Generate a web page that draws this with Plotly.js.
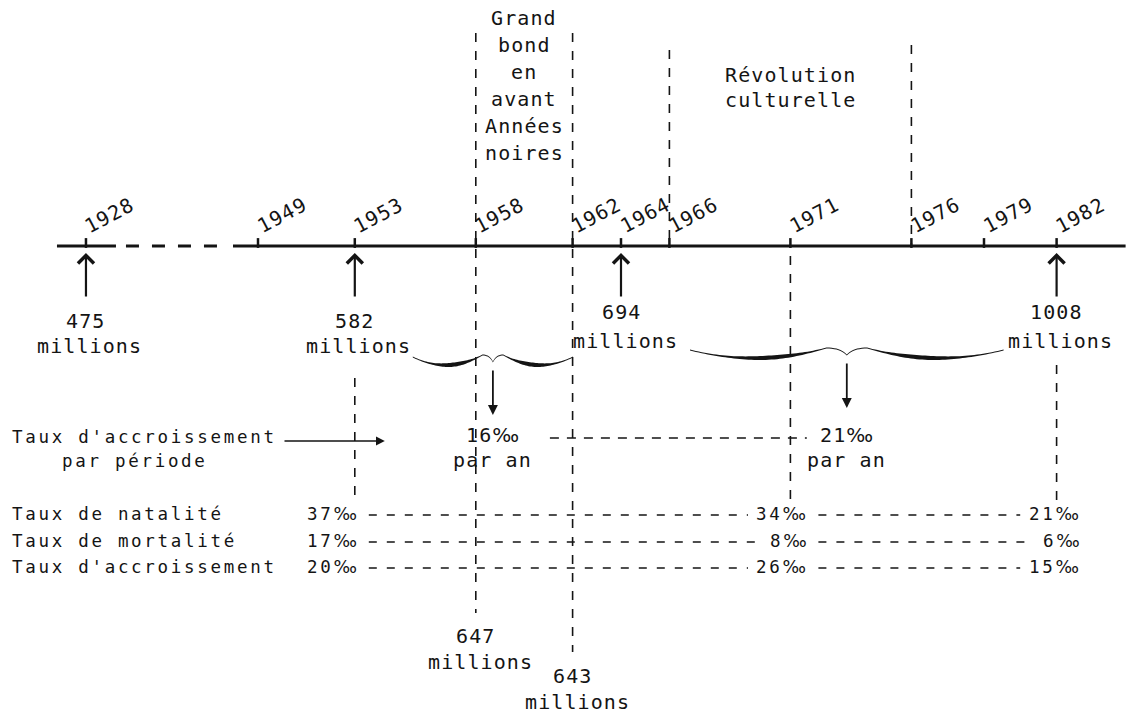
<!DOCTYPE html>
<html>
<head>
<meta charset="utf-8">
<script src="https://cdn.plot.ly/plotly-3.0.1.min.js"></script>
<style>
html,body{margin:0;padding:0;background:#fff;}
#chart{width:1134px;height:713px;}
.annotation-text{letter-spacing:1.1px;}
.annotation-text[style*="font-size: 17.5px"]{letter-spacing:2.7px;}
</style>
</head>
<body>
<div id="chart"></div>
<script>
// ---------------- DATA ----------------
const tickYears   = [1928, 1949, 1953, 1958, 1962, 1964, 1966, 1971, 1976, 1979, 1982];
const censusYears = [1928, 1953, 1964, 1982];
const censusPop   = [475, 582, 694, 1008];
const troughYears = [1958, 1962];
const troughPop   = [647, 643];
const periodStart = [1953, 1964];
const periodEnd   = [1964, 1982];
const periodGrowth = [16, 21];
const eraStart = [1958, 1966];
const eraEnd   = [1962, 1976];
const eraLabels = [["Grand", "bond", "en", "avant", "Années", "noires"], ["Révolution", "culturelle"]];
const rateYears  = [1953, 1971, 1982];
const rateNames  = ["Taux de natalité", "Taux de mortalité", "Taux d'accroissement"];
const birthRate  = [37, 34, 21];
const deathRate  = [17, 8, 6];
const growthRate = [20, 26, 15];
const periodLabel = ["Taux d'accroissement", "par période"];
const unitLabel = "millions";
const perAnLabel = "par an";

// ---------------- LAYOUT CONSTANTS ----------------
const W = 1134, H = 713;
const PPY = 24.2;             // pixels per year
const REF_YEAR = 1949, REF_PX = 258;
const BREAK_SCALE = 0.3385;   // compression of the broken part before 1949
const AXIS_Y = 246;
const INK = '#141414';
const FONT = '"DejaVu Sans Mono", "Liberation Mono", monospace';
const BIG = 20, SMALL = 17.5;
const PM = '<span style="font-family:\'DejaVu Sans\'">‰</span>';

function xp(year) { return year >= REF_YEAR ? year : REF_YEAR - (REF_YEAR - year) * BREAK_SCALE; }
function dx(px) { return px / PPY; }
function pxToX(px) { return REF_YEAR + (px - REF_PX) / PPY; }

const shapes = [];
const ann = [];
function line(x0, y0, x1, y1, width, dash) {
  shapes.push({type: 'line', xref: 'x', yref: 'y', x0, y0, x1, y1,
    line: {color: INK, width: width, dash: dash || 'solid'}});
}
function text(t, x, y, opt) {
  ann.push(Object.assign({text: t, x: x, y: y, xref: 'x', yref: 'y', showarrow: false,
    xanchor: 'center', yanchor: 'middle',
    font: {family: FONT, size: BIG, color: INK}}, opt || {}));
}
function arrow(x, y, ax, ay, head, w, size) {
  ann.push({text: '', x: x, y: y, ax: ax, ay: ay, xref: 'x', yref: 'y', axref: 'x', ayref: 'y',
    showarrow: true, arrowhead: head, arrowwidth: w, arrowsize: size, arrowcolor: INK, standoff: 0, startstandoff: 0});
}

// ---- main time axis (broken before 1949)
const x1928 = xp(tickYears[0]), x1949 = xp(tickYears[1]);
line(x1928 - dx(29), AXIS_Y, x1928 + dx(30), AXIS_Y, 3);
line(x1928 + dx(40), AXIS_Y, x1949 - dx(36), AXIS_Y, 3, '13px,13px');
line(x1949 - dx(25), AXIS_Y, xp(tickYears[tickYears.length - 1]) + dx(69), AXIS_Y, 3);

// ---- year labels (slanted)
tickYears.forEach(y => text(String(y), xp(y), AXIS_Y - 31, {xshift: 24, textangle: -28}));

// ---- era dashed boundaries + labels
const eraSpans = [[[33, 613], [33, 652]], [[50, AXIS_Y], [45, AXIS_Y]]];
eraStart.forEach((s, i) => {
  line(xp(s), eraSpans[i][0][0], xp(s), eraSpans[i][0][1], 1.6, '9px,9px');
  line(xp(eraEnd[i]), eraSpans[i][1][0], xp(eraEnd[i]), eraSpans[i][1][1], 1.6, '9px,9px');
});
const eraLineY = [[18, 45, 72, 99, 126, 153], [75, 100]];
eraLabels.forEach((lines, i) => {
  const xm = (xp(eraStart[i]) + xp(eraEnd[i])) / 2;
  lines.forEach((t, k) => text(t, xm, eraLineY[i][k]));
});

// ---- census populations with arrows
const numY = [321, 321, 312, 312], millY = [346, 346, 341, 341];
censusYears.forEach((y, i) => {
  arrow(xp(y), AXIS_Y + 7, xp(y), AXIS_Y + 52, 4, 2.2, 1.4);
  text(String(censusPop[i]), xp(y), numY[i]);
  text(unitLabel, xp(y), millY[i], {xshift: 4});
});

// ---- troughs (famine) populations at bottom
const troughNumY = [636, 676], troughMillY = [662, 702];
troughYears.forEach((y, i) => {
  text(String(troughPop[i]), xp(y), troughNumY[i]);
  text(unitLabel, xp(y), troughMillY[i], {xshift: 5});
});

// ---- braces over periods
const braceInset = [[58, 48], [69, 53]];
const braceTipY = [362, 355];
function bracePath(xa, xb, yTip) {
  const xm = (xa + xb) / 2;
  const P = [[0, -5], [0.3, 7], [0.6, 5], [0.87, -7]];
  const pts = [];
  const N = 48;
  for (let i = 0; i <= N; i++) {
    const s = i / N, a = (1 - s) ** 3, b = 3 * (1 - s) ** 2 * s, c = 3 * (1 - s) * s * s, d = s ** 3;
    pts.push([a * P[0][0] + b * P[1][0] + c * P[2][0] + d * P[3][0],
              a * P[0][1] + b * P[1][1] + c * P[2][1] + d * P[3][1]]);
  }
  for (let i = 1; i <= 10; i++) {
    const s = i / 10, a = (1 - s) ** 2, b = 2 * (1 - s) * s, c = s * s;
    pts.push([a * 0.87 + b * 0.96 + c * 1, a * -7 + b * -7 + c * 0]);
  }
  const hw = t => t < 0.87 ? 0.5 + 1.6 * Math.sin(Math.PI * Math.pow(t / 0.87, 1.35)) ** 2 : 0.5;
  const L = t => xa + t * (xm - xa), R = t => xb - t * (xb - xm);
  const up = [], lo = [];
  pts.forEach(([t, d]) => up.push([L(t), yTip + d - hw(t)]));
  for (let i = pts.length - 1; i >= 0; i--) { const [t, d] = pts[i]; up.push([R(t), yTip + d - hw(t)]); }
  pts.forEach(([t, d]) => lo.push([R(t), yTip + d + hw(t)]));
  for (let i = pts.length - 1; i >= 0; i--) { const [t, d] = pts[i]; lo.push([L(t), yTip + d + hw(t)]); }
  const all = up.concat(lo);
  return 'M' + all.map(p => p[0].toFixed(4) + ',' + p[1].toFixed(2)).join('L') + 'Z';
}
const tipX = [];
periodStart.forEach((s, i) => {
  const xa = xp(s) + dx(braceInset[i][0]), xb = xp(periodEnd[i]) - dx(braceInset[i][1]);
  const xm = (xa + xb) / 2;
  tipX.push(xm);
  shapes.push({type: 'path', xref: 'x', yref: 'y', path: bracePath(xa, xb, braceTipY[i]),
    fillcolor: INK, line: {width: 0}});
  arrow(xm, braceTipY[i] + 53, xm, braceTipY[i] + 7, 2, 1.8, 1.1);
  text(periodGrowth[i] + PM, xm, 435);
  text(perAnLabel, xm, 460);
});
line(tipX[0] + dx(57), 438, tipX[1] - dx(40), 438, 1.5, '9px,8px');

// ---- left-hand labels
ann.push({text: periodLabel[0], x: 10 / W, xref: 'paper', y: 437, yref: 'y', xanchor: 'left', yanchor: 'middle',
  showarrow: false, font: {family: FONT, size: SMALL, color: INK}});
ann.push({text: periodLabel[1], x: 135 / W, xref: 'paper', y: 461, yref: 'y', xanchor: 'center', yanchor: 'middle',
  showarrow: false, font: {family: FONT, size: SMALL, color: INK}});
arrow(xp(rateYears[0]) + dx(30), 441, pxToX(283), 441, 2, 1.6, 1.1);

// ---- drop lines at rate years
const dropSpan = [[378, 495], [256, 500], [365, 500]];
rateYears.forEach((y, j) => line(xp(y), dropSpan[j][0], xp(y), dropSpan[j][1], 1.6, '9px,9px'));

// ---- rate table
const rowY = [514, 541, 567];
const colShift = [7, 21, 27];
const PITCH = 13.2, PM_W = 27;
[birthRate, deathRate, growthRate].forEach((row, r) => {
  ann.push({text: rateNames[r], x: 10 / W, xref: 'paper', y: rowY[r], yref: 'y', xanchor: 'left', yanchor: 'middle',
    showarrow: false, font: {family: FONT, size: SMALL, color: INK}});
  const right = rateYears.map((y, j) => xp(y) + dx(colShift[j]));
  row.forEach((v, j) => {
    text(v + PM, right[j], rowY[r], {xanchor: 'right', font: {family: FONT, size: SMALL, color: INK}});
    if (j < row.length - 1) {
      const wNext = String(row[j + 1]).length * PITCH + PM_W;
      line(right[j] + dx(7), rowY[r] + 1, right[j + 1] - dx(wNext + 10), rowY[r] + 1, 1.4, '8px,10px');
    }
  });
});

// ---- ticks drawn as a trace through the axes
const data = [{
  type: 'scatter', mode: 'markers', x: tickYears.map(xp), y: tickYears.map(() => AXIS_Y - 3),
  marker: {symbol: 'line-ns', size: 7, line: {color: INK, width: 2.5}}, hoverinfo: 'skip', showlegend: false
}];

const layout = {
  width: W, height: H, margin: {l: 0, r: 0, t: 0, b: 0},
  paper_bgcolor: '#fff', plot_bgcolor: '#fff', showlegend: false,
  xaxis: {range: [pxToX(0), pxToX(W)], visible: false, fixedrange: true},
  yaxis: {range: [H, 0], visible: false, fixedrange: true},
  shapes: shapes, annotations: ann
};
Plotly.newPlot('chart', data, layout, {staticPlot: true, displayModeBar: false});
</script>
</body>
</html>
